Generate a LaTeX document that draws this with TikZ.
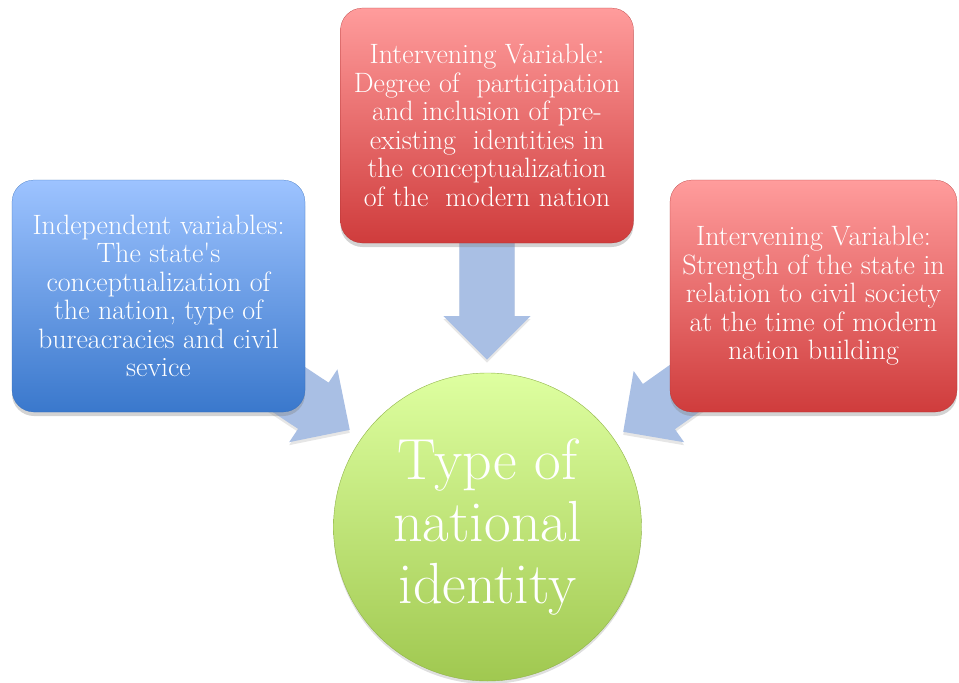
\documentclass[tikz,border=0pt]{standalone}
\usetikzlibrary{shapes.arrows,shadows}
\definecolor{bluetop}{HTML}{9DC3FF}
\definecolor{bluebot}{HTML}{3A78CC}
\definecolor{redtop}{HTML}{FF9C9C}
\definecolor{redbot}{HTML}{CF3C3C}
\definecolor{greentop}{HTML}{DEFFA0}
\definecolor{greenbot}{HTML}{A0C850}
\definecolor{arrowblue}{HTML}{A9BFE4}

\begin{document}
\begin{tikzpicture}[x=1pt,y=-1pt,
varbox/.style={rounded corners=22pt,shading=axis,minimum width=293pt,minimum height=232pt,
  align=center,text=white,font=\fontsize{28}{28.5}\selectfont,
  drop shadow={shadow xshift=0pt,shadow yshift=-4pt,opacity=.35}},
bluebox/.style={varbox,top color=bluetop,bottom color=bluebot,draw=bluebot!90!black,very thin},
redbox/.style={varbox,top color=redtop,bottom color=redbot,draw=redbot!85!black,very thin},
blockarrow/.style={single arrow,fill=arrowblue,text height=27.5pt,text depth=27.5pt,single arrow head extend=16pt,
  inner sep=0pt,anchor=tip,drop shadow={shadow xshift=0pt,shadow yshift=-3pt,opacity=.2}},
result/.style={circle,shading=axis,top color=greentop,bottom color=greenbot,draw=greenbot!90!black,
  minimum size=308pt,align=center,text=white,font=\fontsize{58}{62}\selectfont,
  drop shadow={shadow xshift=0pt,shadow yshift=-3pt,opacity=.25}}]
\useasboundingbox (0,0) rectangle (959,683);

% arrows first, so the boxes cover their tails
\node[blockarrow,minimum height=130pt,rotate=-90] (arrTop) at (487,360) {};
\node[blockarrow,minimum height=115pt,rotate=-33.5] (arrLeft) at (350,430) {};
\node[blockarrow,minimum height=115pt,rotate=215.3] (arrRight) at (623,432) {};

\node[bluebox] (indep) at (158.5,296) {Independent variables:\\The state\textquotesingle s\\conceptualization of\\the nation, type of\\bureacracies and civil\\sevice};
\node[redbox,minimum height=235pt] (interA) at (487,125.5) {Intervening Variable:\\Degree of\ \ participation\\and inclusion of pre-\\existing\ \ identities in\\the conceptualization\\of the\ \ modern nation};
\node[redbox,minimum width=287pt] (interB) at (813.5,296) {Intervening Variable:\\Strength of the state in\\relation to civil society\\at the time of modern\\nation building};

\node[result] (ident) at (487.5,527) {Type of\\national\\identity};

\end{tikzpicture}
\end{document}
